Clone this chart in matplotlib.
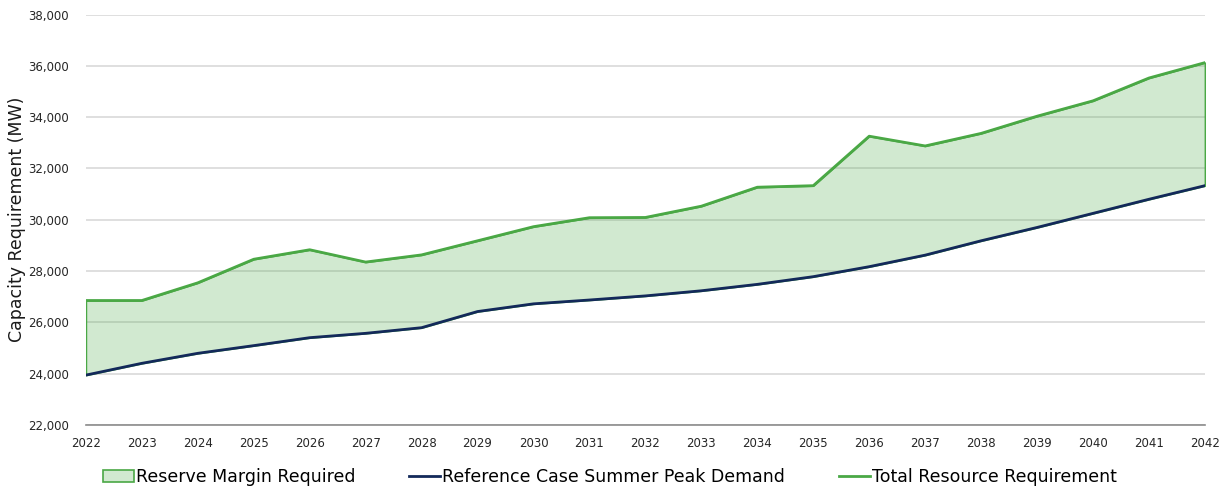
import matplotlib.pyplot as plt
from matplotlib.ticker import FuncFormatter

# data
years = list(range(2022, 2043))
peak_demand = [23940, 24400, 24790, 25090, 25400, 25570, 25790, 26420, 26720, 26870,
               27030, 27230, 27480, 27780, 28170, 28620, 29180, 29700, 30250, 30800, 31330]
total_req = [26850, 26850, 27540, 28460, 28830, 28350, 28630, 29180, 29730, 30080,
             30090, 30530, 31270, 31330, 33260, 32880, 33370, 34040, 34640, 35530, 36130]
y_ticks = list(range(22000, 38001, 2000))

green = '#4aa845'
navy = '#13295a'

plt.rcParams['font.family'] = ['DejaVu Sans']
fig = plt.figure(figsize=(12.27, 4.9), dpi=100)
ax = fig.add_axes([0.070, 0.133, 0.912, 0.837])

ax.fill_between(years, peak_demand, total_req, facecolor=(0.29, 0.66, 0.27, 0.25),
                edgecolor=green, linewidth=1.2, label='Reserve Margin Required', zorder=2)
ax.plot(years, peak_demand, color=navy, linewidth=2, label='Reference Case Summer Peak Demand', zorder=3)
ax.plot(years, total_req, color=green, linewidth=2, label='Total Resource Requirement', zorder=3)

ax.set_xlim(2022, 2042)
ax.set_ylim(22000, 38000)
ax.set_xticks(years)
ax.set_yticks(y_ticks)
ax.yaxis.set_major_formatter(FuncFormatter(lambda v, p: f'{int(v):,}'))
ax.tick_params(axis='both', length=0, labelsize=8.5, colors='#262626')
ax.tick_params(axis='y', pad=12)
ax.tick_params(axis='x', pad=9)
ax.grid(axis='y', color='#d9d9d9', linewidth=1.2, zorder=1)
ax.set_axisbelow(True)
for s in ['top', 'right', 'left']:
    ax.spines[s].set_visible(False)
ax.spines['bottom'].set_color('#8c8c8c')
ax.spines['bottom'].set_linewidth(1.2)

ax.set_ylabel('Capacity Requirement (MW)', fontsize=12.5, color='#1a1a1a', labelpad=2)

fig.legend(loc='lower center', bbox_to_anchor=(0.497, -0.024), ncol=3, frameon=False,
           fontsize=12.5, handlelength=1.8, handletextpad=0.1, columnspacing=3.1)

plt.savefig('out.png', dpi=100)
